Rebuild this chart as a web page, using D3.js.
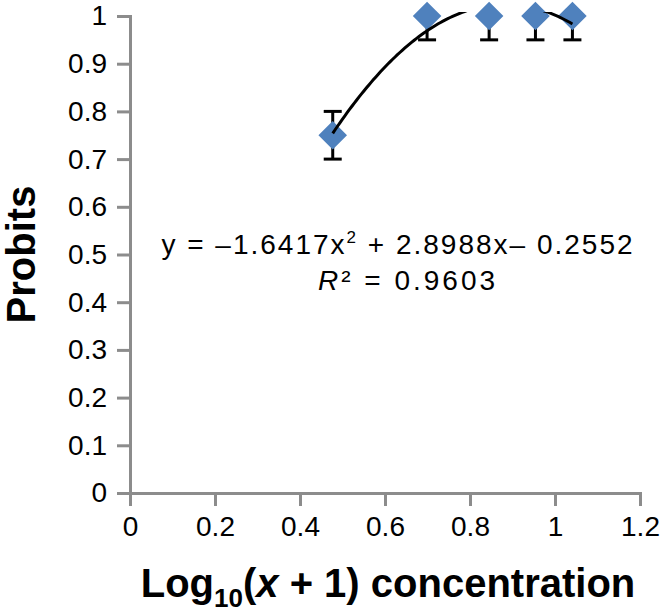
<!DOCTYPE html>
<html>
<head>
<meta charset="utf-8">
<script src="https://cdn.jsdelivr.net/npm/d3@7"></script>
<style>
  body { margin: 0; background: #fff; }
  svg { display: block; font-family: "Liberation Sans", Arial, sans-serif; }
</style>
</head>
<body>
<div id="chart"></div>
<script>
// data
var xValues = [0.477, 0.699, 0.845, 0.954, 1.041];
var yValues = [0.75, 1, 1, 1, 1];
var yErrors = [0.05, 0.05, 0.05, 0.05, 0.05];
// trendline: y = a*x^2 + b*x + c
var trendCoef = [-1.6417, 2.8988, -0.2552];
var xTicks = [0, 0.2, 0.4, 0.6, 0.8, 1, 1.2];
var yTicks = [0, 0.1, 0.2, 0.3, 0.4, 0.5, 0.6, 0.7, 0.8, 0.9, 1];

var width = 662, height = 613;
var margin = {left: 130, right: 22, top: 16, bottom: 120};

var x = d3.scaleLinear().domain([0, 1.2]).range([margin.left, width - margin.right]);
var y = d3.scaleLinear().domain([0, 1]).range([height - margin.bottom, margin.top]);

var axisColor = "#8c8c8c", dotColor = "#4f81bd";

var svg = d3.select("#chart").append("svg")
  .attr("width", width).attr("height", height);

var defs = svg.append("defs");
defs.append("clipPath").attr("id", "plotClip")
  .append("rect")
  .attr("x", x(0)).attr("y", y(1))
  .attr("width", x(1.2) - x(0)).attr("height", y(0) - y(1));
// trendline is let out a little above the plot top, as in the original
defs.append("clipPath").attr("id", "trendClip")
  .append("rect")
  .attr("x", x(0)).attr("y", y(1) - 4)
  .attr("width", x(1.2) - x(0)).attr("height", y(0) - y(1) + 4);

// axes
var xAxis = svg.append("g")
  .attr("transform", `translate(0,${y(0)})`)
  .call(d3.axisBottom(x).tickValues(xTicks).tickSize(13).tickPadding(10).tickFormat(d3.format("")));
var yAxis = svg.append("g")
  .attr("transform", `translate(${x(0)},0)`)
  .call(d3.axisLeft(y).tickValues(yTicks).tickSize(13).tickPadding(10).tickFormat(d3.format("")));

[xAxis, yAxis].forEach(function (g) {
  g.select(".domain").attr("stroke", axisColor).attr("stroke-width", 3);
  g.selectAll(".tick line").attr("stroke", axisColor).attr("stroke-width", 3);
  g.selectAll(".tick text").attr("fill", "#000").attr("font-size", 28)
    .attr("font-family", "'Liberation Sans', Arial, sans-serif");
});

var pts = xValues.map(function (v, i) { return {x: v, y: yValues[i], e: yErrors[i]}; });

// error bars
var err = svg.append("g").attr("clip-path", "url(#plotClip)")
  .attr("stroke", "#000").attr("stroke-width", 3);
pts.forEach(function (d) {
  err.append("line")
    .attr("x1", x(d.x)).attr("x2", x(d.x))
    .attr("y1", y(d.y - d.e)).attr("y2", y(d.y + d.e));
  [d.y - d.e, d.y + d.e].forEach(function (v) {
    err.append("line")
      .attr("x1", x(d.x) - 9).attr("x2", x(d.x) + 9)
      .attr("y1", y(v)).attr("y2", y(v));
  });
});

// markers
var diamond = d3.symbol().type(d3.symbolDiamond2).size(520);
svg.append("g").selectAll("path").data(pts).enter().append("path")
  .attr("d", diamond)
  .attr("transform", function (d) { return `translate(${x(d.x)},${y(d.y)})`; })
  .attr("fill", dotColor);

// polynomial trendline
var trend = function (v) { return trendCoef[0] * v * v + trendCoef[1] * v + trendCoef[2]; };
var xs = d3.range(0, 101).map(function (i) {
  return xValues[0] + (xValues[xValues.length - 1] - xValues[0]) * i / 100;
});
svg.append("path")
  .datum(xs)
  .attr("clip-path", "url(#trendClip)")
  .attr("fill", "none").attr("stroke", "#000").attr("stroke-width", 3)
  .attr("d", d3.line().x(function (v) { return x(v); }).y(function (v) { return y(trend(v)); }));

// equation label
var eq = svg.append("text").attr("x", 398).attr("y", 254)
  .attr("text-anchor", "middle").attr("font-size", 28).attr("letter-spacing", 2);
eq.append("tspan").text("y = \u20131.6417x");
eq.append("tspan").attr("font-size", 17).attr("dy", -11).text("2");
eq.append("tspan").attr("dy", 11).text(" + 2.8988x\u2013 0.2552");

var r2 = svg.append("text").attr("x", 408).attr("y", 290)
  .attr("text-anchor", "middle").attr("font-size", 28).attr("letter-spacing", 3);
r2.append("tspan").attr("font-style", "italic").text("R");
r2.append("tspan").text("\u00b2 = 0.9603");

// axis titles
var xt = svg.append("text").attr("x", 388).attr("y", 597)
  .attr("text-anchor", "middle").attr("font-size", 40).attr("font-weight", "bold");
xt.append("tspan").text("Log");
xt.append("tspan").attr("font-size", 26).attr("dy", 10).text("10");
xt.append("tspan").attr("dy", -10).text("(");
xt.append("tspan").attr("font-style", "italic").text("x");
xt.append("tspan").text(" + 1) concentration");

svg.append("text")
  .attr("transform", `translate(35,${(y(0) + y(1)) / 2}) rotate(-90)`)
  .attr("text-anchor", "middle").attr("font-size", 40).attr("font-weight", "bold")
  .text("Probits");
</script>
</body>
</html>
